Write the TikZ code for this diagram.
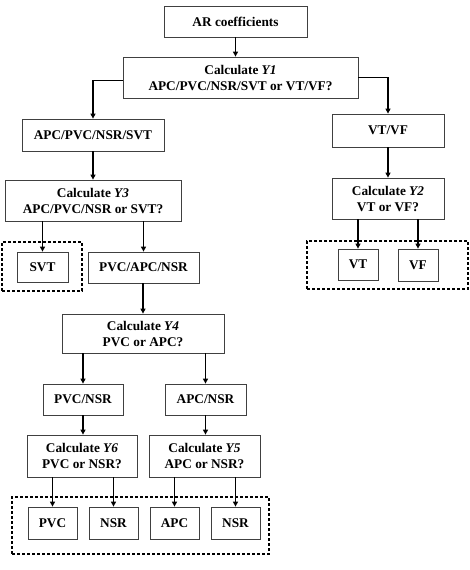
\documentclass[tikz,border=0pt]{standalone}
\usepackage{fontspec}
\setmainfont{Liberation Serif}
\usetikzlibrary{arrows.meta}
\tikzset{
  box/.style={draw=black!75, line width=0.8pt, inner sep=0pt, align=center,
    font=\bfseries\fontsize{13.3}{16}\selectfont},
  arr/.style={-{Triangle[length=5pt,width=5pt]}, line width=1.2pt},
  group/.style={draw, line width=1.2pt, dash pattern=on 3pt off 2pt, inner sep=0pt}
}
\newcommand{\Yv}[1]{\textit{Y#1}}
\begin{document}
\begin{tikzpicture}[x=1pt,y=-1pt]
\useasboundingbox (0,0) rectangle (470,570);
% dashed groups
\node[group, minimum width=80pt, minimum height=49pt] (gsvt) at (42,266.5) {};
\node[group, minimum width=161pt, minimum height=48pt] (gvt) at (387.5,265) {};
\node[group, minimum width=257pt, minimum height=57pt] (gbot) at (140.5,525.5) {};
% top
\node[box, minimum width=143pt, minimum height=31pt] (ar) at (235.5,21.5) {AR coefficients};
\node[box, minimum width=235pt, minimum height=41pt] (y1) at (240.5,77.5) {Calculate \Yv1\\APC/PVC/NSR/SVT or VT/VF?};
\node[box, minimum width=142pt, minimum height=32pt] (apvs) at (93,135) {APC/PVC/NSR/SVT};
\node[box, minimum width=112pt, minimum height=33pt] (vtvf) at (388,130.5) {VT/VF};
\node[box, minimum width=176pt, minimum height=41pt] (y3) at (93,200.5) {Calculate \Yv3\\APC/PVC/NSR or SVT?};
\node[box, minimum width=112pt, minimum height=41pt] (y2) at (388,198.5) {Calculate \Yv2\\VT or VF?};
\node[box, minimum width=51pt, minimum height=30pt] (svt) at (42.5,267) {SVT};
\node[box, minimum width=111pt, minimum height=31pt] (pan) at (143.5,267.5) {PVC/APC/NSR};
\node[box, minimum width=40pt, minimum height=31pt] (vt) at (358,264.5) {VT};
\node[box, minimum width=40pt, minimum height=32pt] (vf) at (418,265) {VF};
% lower part
\node[box, minimum width=162pt, minimum height=39pt] (y4) at (143,333.5) {Calculate \Yv4\\PVC or APC?};
\node[box, minimum width=80pt, minimum height=31pt] (pn) at (83,399.5) {PVC/NSR};
\node[box, minimum width=81pt, minimum height=31pt] (an) at (205.5,399.5) {APC/NSR};
\node[box, minimum width=110pt, minimum height=42pt] (y6) at (82,456) {Calculate \Yv6\\PVC or NSR?};
\node[box, minimum width=111pt, minimum height=42pt] (y5) at (204.5,456) {Calculate \Yv5\\APC or NSR?};
\node[box, minimum width=49pt, minimum height=32pt] (pvc) at (52.5,523) {PVC};
\node[box, minimum width=49pt, minimum height=32pt] (nsra) at (113.5,523) {NSR};
\node[box, minimum width=49pt, minimum height=32pt] (apc) at (174.5,523) {APC};
\node[box, minimum width=49pt, minimum height=32pt] (nsrb) at (235.5,523) {NSR};
% arrows
\draw[arr] (ar.south) -- (ar.south |- y1.north);
\draw[arr] ([yshift=-3pt]y1.west) -| (apvs.north);
\draw[arr] (y1.east) -| (vtvf.north);
\draw[arr] (apvs.south) -- (y3.north);
\draw[arr] (vtvf.south) -- (y2.north);
\draw[arr] (y3.south -| svt.north) -- (svt.north);
\draw[arr] (y3.south -| pan.north) -- (pan.north);
\draw[arr] (y2.south -| vt.north) -- (vt.north);
\draw[arr] (y2.south -| vf.north) -- (vf.north);
\draw[arr] (pan.south -| y4.north) -- (y4.north);
\draw[arr] (y4.south -| pn.north) -- (pn.north);
\draw[arr] (y4.south -| an.north) -- (an.north);
\draw[arr] (pn.south) -- (pn.south |- y6.north);
\draw[arr] (an.south) -- (an.south |- y5.north);
\draw[arr] (y6.south -| pvc.north) -- (pvc.north);
\draw[arr] (y6.south -| nsra.north) -- (nsra.north);
\draw[arr] (y5.south -| apc.north) -- (apc.north);
\draw[arr] (y5.south -| nsrb.north) -- (nsrb.north);
\end{tikzpicture}
\end{document}
